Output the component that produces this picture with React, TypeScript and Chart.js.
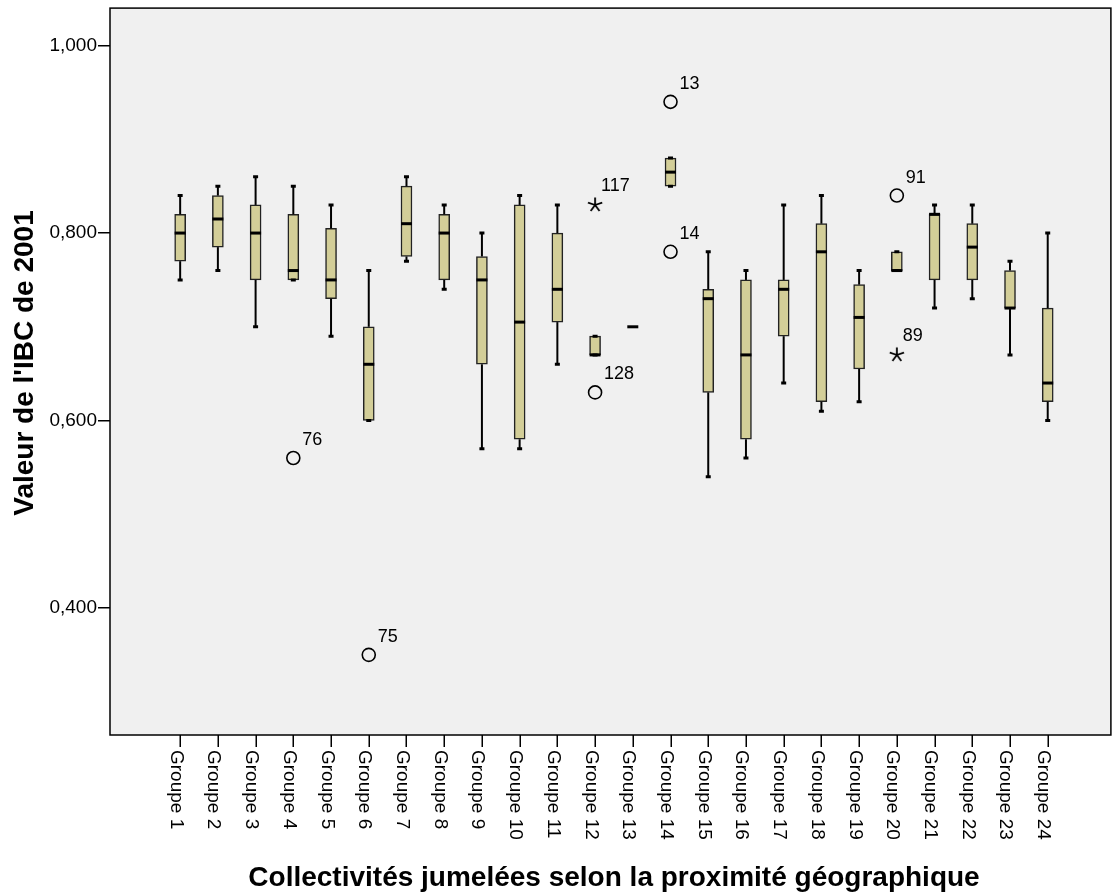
import React, { useEffect, useRef } from 'react';
import { Chart, registerables } from 'chart.js';

Chart.register(...registerables);

const FONT = '"Liberation Sans", Arial, Helvetica, sans-serif';

const groups = [
  'Groupe 1', 'Groupe 2', 'Groupe 3', 'Groupe 4', 'Groupe 5', 'Groupe 6',
  'Groupe 7', 'Groupe 8', 'Groupe 9', 'Groupe 10', 'Groupe 11', 'Groupe 12',
  'Groupe 13', 'Groupe 14', 'Groupe 15', 'Groupe 16', 'Groupe 17', 'Groupe 18',
  'Groupe 19', 'Groupe 20', 'Groupe 21', 'Groupe 22', 'Groupe 23', 'Groupe 24',
];

const whiskerLow = [0.75, 0.76, 0.70, 0.75, 0.69, 0.60, 0.77, 0.74, 0.57, 0.57, 0.66, 0.67,
  0.70, 0.85, 0.54, 0.56, 0.64, 0.61, 0.62, 0.76, 0.72, 0.73, 0.67, 0.60];
const q1 = [0.77, 0.785, 0.75, 0.75, 0.73, 0.60, 0.775, 0.75, 0.66, 0.58, 0.705, 0.67,
  0.70, 0.85, 0.63, 0.58, 0.69, 0.62, 0.655, 0.76, 0.75, 0.75, 0.72, 0.62];
const median = [0.80, 0.815, 0.80, 0.76, 0.75, 0.66, 0.81, 0.80, 0.75, 0.705, 0.74, 0.67,
  0.70, 0.865, 0.73, 0.67, 0.74, 0.78, 0.71, 0.76, 0.82, 0.785, 0.72, 0.64];
const q3 = [0.82, 0.84, 0.83, 0.82, 0.805, 0.70, 0.85, 0.82, 0.775, 0.83, 0.80, 0.69,
  0.70, 0.88, 0.74, 0.75, 0.75, 0.81, 0.745, 0.78, 0.82, 0.81, 0.76, 0.72];
const whiskerHigh = [0.84, 0.85, 0.86, 0.85, 0.83, 0.76, 0.86, 0.83, 0.80, 0.84, 0.83, 0.69,
  0.70, 0.88, 0.78, 0.76, 0.83, 0.84, 0.76, 0.78, 0.83, 0.83, 0.77, 0.80];

const outlierGroup = [4, 6, 12, 14, 14, 20];
const outlierValue = [0.56, 0.35, 0.63, 0.94, 0.78, 0.84];
const outlierLabel = ['76', '75', '128', '13', '14', '91'];

const extremeGroup = [12, 20];
const extremeValue = [0.83, 0.67];
const extremeLabel = ['117', '89'];

const yTicks = [0.4, 0.6, 0.8, 1.0];

const xTitle = 'Collectivités jumelées selon la proximité géographique';
const yTitle = "Valeur de l'IBC de 2001";

const BOX_FILL = '#D3CE98';

function makeAsterisk(): HTMLCanvasElement {
  const c = document.createElement('canvas');
  c.width = 18;
  c.height = 18;
  const g = c.getContext('2d')!;
  g.strokeStyle = '#000';
  g.lineWidth = 1.8;
  g.lineCap = 'butt';
  const cx = 9;
  const cy = 9;
  const r = 7.5;
  g.beginPath();
  for (let k = 0; k < 5; k++) {
    const ang = -Math.PI / 2 + (k * 2 * Math.PI) / 5;
    g.moveTo(cx, cy);
    g.lineTo(cx + r * Math.cos(ang), cy + r * Math.sin(ang));
  }
  g.stroke();
  return c;
}

export default function App() {
  const ref = useRef<HTMLCanvasElement>(null);

  useEffect(() => {
    document.body.style.margin = '0';
    const canvas = ref.current;
    if (!canvas) return;

    const plugin = {
      id: 'spssBox',
      beforeDraw(chart: any) {
        const { ctx, chartArea: a } = chart;
        ctx.save();
        ctx.fillStyle = '#ffffff';
        ctx.fillRect(0, 0, chart.width, chart.height);
        ctx.fillStyle = '#F0F0F0';
        ctx.fillRect(a.left, a.top, a.right - a.left, a.bottom - a.top);
        ctx.restore();
      },
      afterDatasetsDraw(chart: any) {
        const { ctx } = chart;
        const xs = chart.scales.x;
        const ys = chart.scales.y;
        ctx.save();
        ctx.strokeStyle = '#000';
        ctx.lineCap = 'butt';
        for (let i = 0; i < groups.length; i++) {
          const x = xs.getPixelForValue(i + 1);
          const yl = ys.getPixelForValue(whiskerLow[i]);
          const y1 = ys.getPixelForValue(q1[i]);
          const y3 = ys.getPixelForValue(q3[i]);
          const yh = ys.getPixelForValue(whiskerHigh[i]);
          const ym = ys.getPixelForValue(median[i]);
          ctx.lineWidth = 2;
          if (whiskerHigh[i] > q3[i]) {
            ctx.beginPath();
            ctx.moveTo(x, yh);
            ctx.lineTo(x, y3);
            ctx.stroke();
          }
          if (whiskerLow[i] < q1[i]) {
            ctx.beginPath();
            ctx.moveTo(x, y1);
            ctx.lineTo(x, yl);
            ctx.stroke();
          }
          if (whiskerHigh[i] > q3[i] || whiskerLow[i] < q1[i] || q1[i] !== q3[i]) {
            ctx.lineWidth = 3;
            ctx.beginPath();
            ctx.moveTo(x - 2.5, yh);
            ctx.lineTo(x + 2.5, yh);
            ctx.moveTo(x - 2.5, yl);
            ctx.lineTo(x + 2.5, yl);
            ctx.stroke();
          }
          ctx.lineWidth = 3;
          ctx.beginPath();
          ctx.moveTo(x - 5.5, ym);
          ctx.lineTo(x + 5.5, ym);
          ctx.stroke();
        }
        ctx.fillStyle = '#000';
        ctx.font = `18px ${FONT}`;
        ctx.textAlign = 'left';
        ctx.textBaseline = 'alphabetic';
        for (let i = 0; i < outlierGroup.length; i++) {
          const x = xs.getPixelForValue(outlierGroup[i]);
          const y = ys.getPixelForValue(outlierValue[i]);
          ctx.fillText(outlierLabel[i], x + 9, y - 13);
        }
        for (let i = 0; i < extremeGroup.length; i++) {
          const x = xs.getPixelForValue(extremeGroup[i]);
          const y = ys.getPixelForValue(extremeValue[i]);
          ctx.fillText(extremeLabel[i], x + 6, y - 14);
        }
        ctx.restore();
      },
      afterDraw(chart: any) {
        const { ctx, chartArea: a } = chart;
        const xs = chart.scales.x;
        ctx.save();
        ctx.strokeStyle = '#000';
        ctx.lineWidth = 1.5;
        ctx.strokeRect(a.left, a.top, a.right - a.left, a.bottom - a.top);
        // x tick marks
        ctx.beginPath();
        for (let i = 0; i < groups.length; i++) {
          const x = Math.round(xs.getPixelForValue(i + 1)) + 0.25;
          ctx.moveTo(x, a.bottom);
          ctx.lineTo(x, a.bottom + 12);
        }
        ctx.stroke();
        ctx.fillStyle = '#000';
        ctx.font = `19px ${FONT}`;
        ctx.textAlign = 'left';
        ctx.textBaseline = 'alphabetic';
        for (let i = 0; i < groups.length; i++) {
          const x = xs.getPixelForValue(i + 1);
          ctx.save();
          ctx.translate(x - 9.5, a.bottom + 15);
          ctx.rotate(Math.PI / 2);
          ctx.fillText(groups[i], 0, 0);
          ctx.restore();
        }
        ctx.font = `bold 28px ${FONT}`;
        ctx.textAlign = 'center';
        ctx.fillText(xTitle, 614, 886);
        ctx.save();
        ctx.translate(33, 363);
        ctx.rotate(-Math.PI / 2);
        ctx.fillText(yTitle, 0, 0);
        ctx.restore();
        ctx.restore();
      },
    };

    const star = makeAsterisk();

    const chart = new Chart(canvas, {
      type: 'bar',
      data: {
        datasets: [
          {
            type: 'scatter',
            data: outlierGroup.map((g, i) => ({ x: g, y: outlierValue[i] })),
            pointStyle: 'circle',
            pointRadius: 6.5,
            pointBorderWidth: 1.6,
            pointBorderColor: '#000',
            pointBackgroundColor: 'rgba(0,0,0,0)',
          } as any,
          {
            type: 'scatter',
            data: extremeGroup.map((g, i) => ({ x: g, y: extremeValue[i] })),
            pointStyle: star,
            pointRadius: 7,
          } as any,
          {
            type: 'bar',
            data: groups.map((g, i) => ({ x: i + 1, y: [q1[i], q3[i]] })),
            backgroundColor: BOX_FILL,
            borderColor: '#222',
            borderWidth: 1.5,
            borderSkipped: false,
            barThickness: 11,
          } as any,
        ],
      },
      options: {
        animation: false,
        responsive: false,
        events: [],
        layout: { padding: { left: 0, top: 8, right: 6, bottom: 0 } },
        plugins: {
          legend: { display: false },
          tooltip: { enabled: false },
        },
        scales: {
          x: {
            type: 'linear',
            min: -0.86,
            max: 25.675,
            offset: false,
            afterBuildTicks: (s: any) => {
              s.ticks = groups.map((g, i) => ({ value: i + 1 }));
            },
            afterFit: (s: any) => {
              s.height = 159;
              s.paddingLeft = 0;
              s.paddingRight = 0;
              s.paddingTop = 0;
              s.paddingBottom = 0;
            },
            ticks: { display: false },
            grid: { display: false },
            border: { display: false },
          },
          y: {
            type: 'linear',
            min: 0.2645,
            max: 1.04,
            afterBuildTicks: (s: any) => {
              s.ticks = yTicks.map((v) => ({ value: v }));
            },
            afterFit: (s: any) => {
              s.width = 110;
              s.paddingLeft = 0;
              s.paddingRight = 0;
              s.paddingTop = 0;
              s.paddingBottom = 0;
            },
            ticks: {
              padding: 1,
              color: '#000',
              font: { family: FONT, size: 19 },
              callback: (v: any) => Number(v).toFixed(3).replace('.', ','),
            },
            grid: {
              display: true,
              drawOnChartArea: false,
              drawTicks: true,
              tickLength: 12,
              color: '#000',
              lineWidth: 1.5,
            },
            border: { display: false },
          },
        },
      } as any,
      plugins: [plugin],
    });

    return () => {
      chart.destroy();
    };
  }, []);

  return (
    <canvas
      ref={ref}
      width={1119}
      height={894}
      style={{ display: 'block', width: 1119, height: 894 }}
    />
  );
}
